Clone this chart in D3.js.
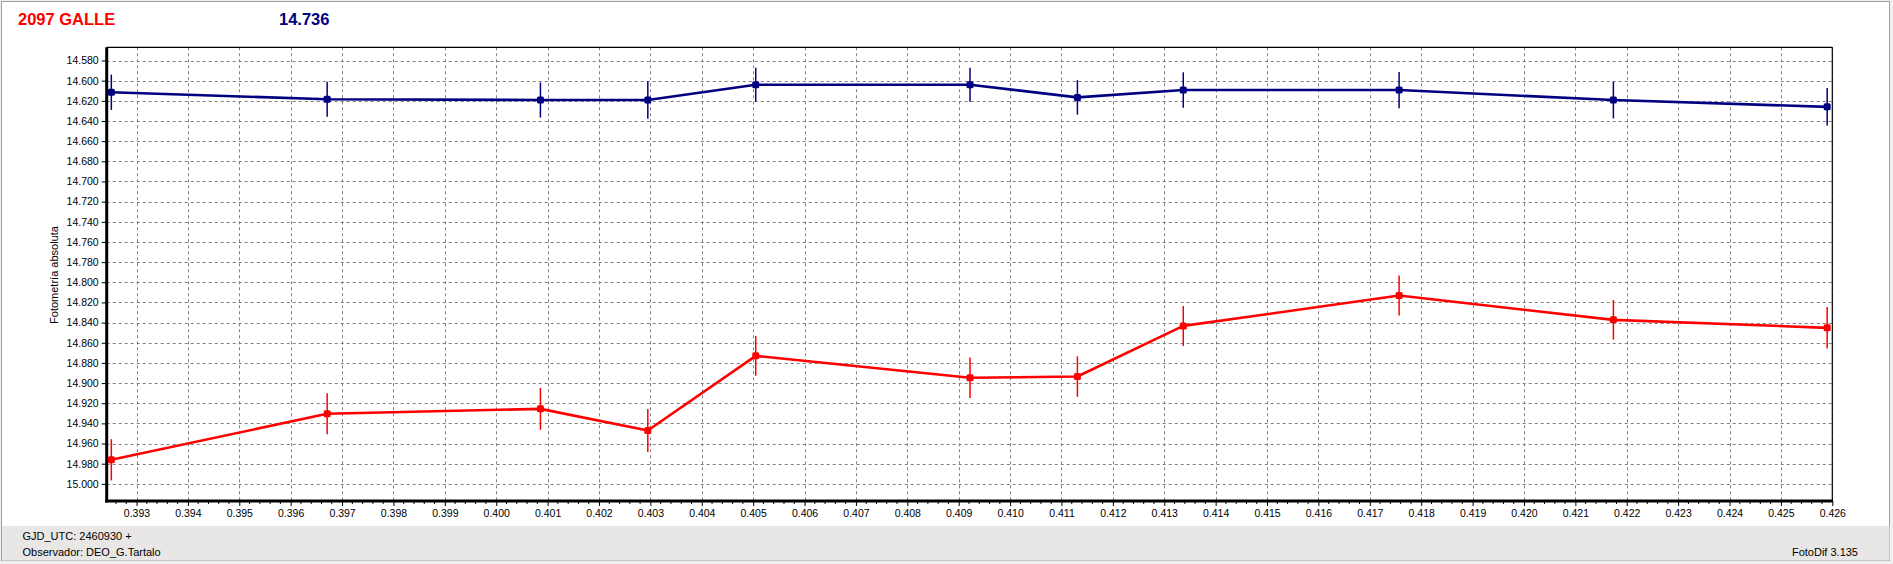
<!DOCTYPE html>
<html>
<head>
<meta charset="utf-8">
<script src="https://cdn.jsdelivr.net/npm/d3@7"></script>
<style>
  html, body { margin: 0; padding: 0; background: #ffffff; }
  svg { display: block; }
  text { font-family: "Liberation Sans", Arial, sans-serif; }
</style>
</head>
<body>
<svg id="chart" width="1893" height="564"></svg>
<script>
// ---- data ----
const titleName = "2097 GALLE";
const titleValue = "14.736";
const yAxisTitle = "Fotometría absoluta";
const footerLines = ["GJD_UTC: 2460930 +", "Observador: DEO_G.Tartalo"];
const footerRight = "FotoDif 3.135";

const jdFrac  = [0.39251, 0.39671, 0.40086, 0.40295, 0.40505, 0.40922, 0.41131, 0.41337, 0.41757, 0.42174, 0.42590];
const blueMag = [14.6115, 14.6185, 14.6192, 14.6192, 14.6040, 14.6040, 14.6166, 14.6093, 14.6093, 14.6192, 14.6260];
const blueErr = [0.0175, 0.0174, 0.0174, 0.0185, 0.0169, 0.0169, 0.0171, 0.0176, 0.0180, 0.0183, 0.0186];
const redMag  = [14.9761, 14.9305, 14.9256, 14.9471, 14.8730, 14.8948, 14.8935, 14.8433, 14.8132, 14.8373, 14.8452];
const redErr  = [0.0205, 0.0203, 0.0208, 0.0213, 0.0198, 0.0201, 0.0201, 0.0198, 0.0198, 0.0196, 0.0206];

const xTicks = [0.393,0.394,0.395,0.396,0.397,0.398,0.399,0.400,0.401,0.402,0.403,0.404,0.405,0.406,0.407,0.408,0.409,0.410,0.411,0.412,0.413,0.414,0.415,0.416,0.417,0.418,0.419,0.420,0.421,0.422,0.423,0.424,0.425,0.426];
const yTicks = [14.58,14.60,14.62,14.64,14.66,14.68,14.70,14.72,14.74,14.76,14.78,14.80,14.82,14.84,14.86,14.88,14.90,14.92,14.94,14.96,14.98,15.00];

const xDomain = [0.39242, 0.426];
const yDomain = [14.5669, 15.0170];

// ---- layout ----
const W = 1893, H = 564;
const plot = { left: 106.7, right: 1832.3, top: 47.3, bottom: 501 };

const svg = d3.select("#chart");

// window background and frame
svg.append("rect").attr("x", 0).attr("y", 0).attr("width", W).attr("height", H).attr("fill", "#f0f0f0");
svg.append("rect").attr("x", 1.5).attr("y", 1.5).attr("width", 1888).attr("height", 559)
   .attr("fill", "#ffffff").attr("stroke", "#a0a0a0").attr("stroke-width", 1);
// footer
svg.append("rect").attr("x", 2).attr("y", 526).attr("width", 1887.5).attr("height", 34.5).attr("fill", "#e8e7e5");

const x = d3.scaleLinear().domain(xDomain).range([plot.left, plot.right]);
const y = d3.scaleLinear().domain(yDomain).range([plot.top, plot.bottom]);

// plot background
svg.append("rect").attr("x", plot.left).attr("y", plot.top)
   .attr("width", plot.right - plot.left).attr("height", plot.bottom - plot.top).attr("fill", "#ffffff");

// grid
const grid = svg.append("g");
grid.selectAll("line.gx").data(xTicks).join("line")
   .attr("x1", d => Math.round(x(d)) + 0.5).attr("x2", d => Math.round(x(d)) + 0.5)
   .attr("y1", plot.top).attr("y2", plot.bottom)
   .attr("stroke", "#808080").attr("stroke-width", 1).attr("stroke-dasharray", "3,3");
grid.selectAll("line.gy").data(yTicks).join("line")
   .attr("x1", plot.left).attr("x2", plot.right)
   .attr("y1", d => Math.round(y(d)) + 0.5).attr("y2", d => Math.round(y(d)) + 0.5)
   .attr("stroke", "#808080").attr("stroke-width", 1).attr("stroke-dasharray", "3,3");

// border top/right thin
svg.append("line").attr("x1", plot.left).attr("x2", plot.right).attr("y1", plot.top).attr("y2", plot.top)
   .attr("stroke", "#000").attr("stroke-width", 1.2);
svg.append("line").attr("x1", plot.right).attr("x2", plot.right).attr("y1", plot.top).attr("y2", plot.bottom)
   .attr("stroke", "#000").attr("stroke-width", 1.2);

// axes
const xAxis = d3.axisBottom(x).tickValues(xTicks).tickFormat(d3.format(".3f")).tickSize(5).tickPadding(4);
const gx = svg.append("g").attr("transform", `translate(0,${plot.bottom})`).call(xAxis);
gx.select(".domain").remove();
gx.selectAll("text").attr("font-size", "10.5px").attr("fill", "#000").attr("font-family", "'Liberation Sans', Arial, sans-serif");
gx.selectAll("line").attr("stroke", "#000");

// minor x ticks
const minor = [];
xTicks.forEach(t => { for (let k = 1; k < 5; k++) { const v = t - 0.001 + k * 0.0002; if (v > xDomain[0]) minor.push(v); } });
svg.append("g").selectAll("line").data(minor).join("line")
   .attr("x1", d => x(d)).attr("x2", d => x(d)).attr("y1", plot.bottom).attr("y2", plot.bottom + 3)
   .attr("stroke", "#000").attr("stroke-width", 1);

const yAxis = d3.axisLeft(y).tickValues(yTicks).tickFormat(d3.format(".3f")).tickSize(5).tickPadding(3);
const gy = svg.append("g").attr("transform", `translate(${plot.left},0)`).call(yAxis);
gy.select(".domain").remove();
gy.selectAll("text").attr("font-size", "10.5px").attr("fill", "#000").attr("font-family", "'Liberation Sans', Arial, sans-serif");
gy.selectAll("line").attr("stroke", "#000");

// thick left and bottom axis lines
svg.append("line").attr("x1", plot.left).attr("x2", plot.left).attr("y1", plot.top).attr("y2", plot.bottom + 1.5)
   .attr("stroke", "#000").attr("stroke-width", 3);
svg.append("line").attr("x1", plot.left - 1.5).attr("x2", plot.right + 0.5).attr("y1", plot.bottom).attr("y2", plot.bottom)
   .attr("stroke", "#000").attr("stroke-width", 3);

// y axis title
svg.append("text").attr("transform", `translate(58,275) rotate(-90)`)
   .attr("text-anchor", "middle").attr("font-size", "11px").attr("fill", "#000").text(yAxisTitle);

// series
function drawSeries(vals, errs, color) {
  const pts = jdFrac.map((d, i) => ({ x: d, y: vals[i], e: errs[i] }));
  const g = svg.append("g");
  g.append("path").datum(pts)
    .attr("d", d3.line().x(d => x(d.x)).y(d => y(d.y)))
    .attr("fill", "none").attr("stroke", color).attr("stroke-width", 2.6).attr("stroke-linejoin", "round");
  g.selectAll("line.err").data(pts).join("line")
    .attr("x1", d => x(d.x)).attr("x2", d => x(d.x))
    .attr("y1", d => y(d.y - d.e)).attr("y2", d => y(d.y + d.e))
    .attr("stroke", color).attr("stroke-width", 1.5);
  g.selectAll("rect.mk").data(pts).join("rect")
    .attr("x", d => x(d.x) - 3.5).attr("y", d => y(d.y) - 3.5)
    .attr("width", 7).attr("height", 7).attr("rx", 1.5)
    .attr("fill", color);
}
drawSeries(redMag, redErr, "#ff0000");
drawSeries(blueMag, blueErr, "#000080");

// titles
svg.append("text").attr("x", 18).attr("y", 25).attr("font-size", "16.5px").attr("font-weight", "bold")
   .attr("fill", "#ff0000").text(titleName);
svg.append("text").attr("x", 279).attr("y", 25).attr("font-size", "16.5px").attr("font-weight", "bold")
   .attr("fill", "#000080").text(titleValue);

// footer text
svg.append("g").selectAll("text").data(footerLines).join("text")
   .attr("x", 22.5).attr("y", (d, i) => 540 + i * 15.5)
   .attr("font-size", "11px").attr("fill", "#000").text(d => d);
svg.append("text").attr("x", 1858).attr("y", 555.5).attr("text-anchor", "end")
   .attr("font-size", "11px").attr("fill", "#000").text(footerRight);
</script>
</body>
</html>
